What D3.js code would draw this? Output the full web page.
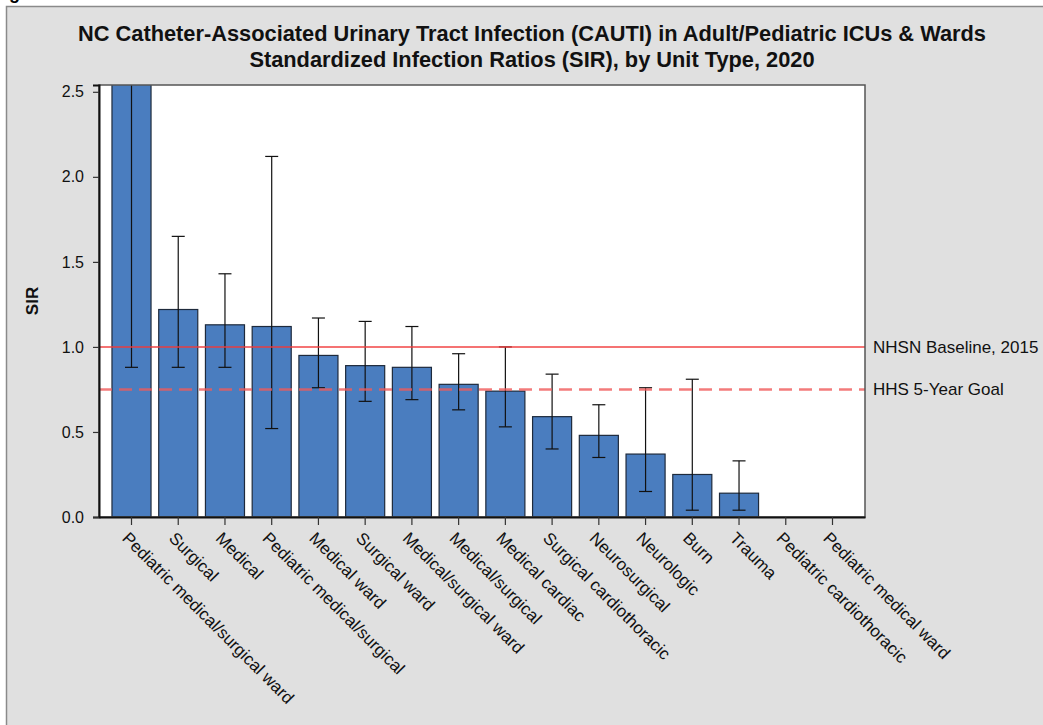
<!DOCTYPE html>
<html>
<head>
<meta charset="utf-8">
<script src="https://cdn.jsdelivr.net/npm/d3@7"></script>
<style>
  html, body { margin: 0; padding: 0; background: #ffffff; }
  svg { display: block; font-family: Arial, "Liberation Sans", sans-serif; }
</style>
</head>
<body>
<svg id="chart" width="1043" height="725"></svg>
<script>
// Unit types, in the order they are plotted
const categories = [
  "Pediatric medical/surgical ward", "Surgical", "Medical", "Pediatric medical/surgical",
  "Medical ward", "Surgical ward", "Medical/surgical ward", "Medical/surgical",
  "Medical cardiac", "Surgical cardiothoracic", "Neurosurgical", "Neurologic",
  "Burn", "Trauma", "Pediatric cardiothoracic", "Pediatric medical ward"
];
// Standardized infection ratio per unit type
const sirValues = [2.80, 1.22, 1.13, 1.12, 0.95, 0.89, 0.88, 0.78, 0.74, 0.59, 0.48, 0.37, 0.25, 0.14, 0, 0];
// 95% confidence interval bounds (null where no interval is shown)
const ciLower = [0.88, 0.88, 0.88, 0.52, 0.76, 0.68, 0.69, 0.63, 0.53, 0.40, 0.35, 0.15, 0.04, 0.04, null, null];
const ciUpper = [6.20, 1.65, 1.43, 2.12, 1.17, 1.15, 1.12, 0.96, 1.00, 0.84, 0.66, 0.76, 0.81, 0.33, null, null];
// Reference lines
const refLabels = ["NHSN Baseline, 2015", "HHS 5-Year Goal"];
const refValues = [1.0, 0.75];
// Y axis ticks
const yTicks = [0, 0.5, 1.0, 1.5, 2.0, 2.5];
const titleLines = [
  "NC Catheter-Associated Urinary Tract Infection (CAUTI) in Adult/Pediatric ICUs & Wards",
  "Standardized Infection Ratios (SIR), by Unit Type, 2020"
];

const svg = d3.select("#chart");
const W = 1043, H = 725;
const plot = { left: 99, right: 865, top: 85, bottom: 517 };
const FONT = "Arial, 'Liberation Sans', sans-serif";

// heading glyph clipped by the top edge
svg.append("text").attr("x", 9).attr("y", -1)
  .attr("font-size", 18).attr("font-weight", "bold").attr("fill", "#000").text("g");

// gray background panel
svg.append("rect")
  .attr("x", 6.5).attr("y", 6.5).attr("width", W).attr("height", H)
  .attr("fill", "#e0e0e0").attr("stroke", "#8a8a8a").attr("stroke-width", 1.5);

// title
svg.append("g").selectAll("text").data(titleLines).join("text")
  .attr("x", 532).attr("y", (d, i) => 41 + i * 26)
  .attr("text-anchor", "middle")
  .attr("font-size", 21.8).attr("font-weight", "bold").attr("fill", "#111")
  .text(d => d);

const x = d3.scaleBand()
  .domain(categories)
  .range([plot.left, plot.right])
  .paddingInner(0.143)
  .paddingOuter(0.267);

const y = d3.scaleLinear()
  .domain([0, 2.54])
  .range([plot.bottom, plot.top]);

// plot background
svg.append("rect")
  .attr("x", plot.left).attr("y", plot.top)
  .attr("width", plot.right - plot.left).attr("height", plot.bottom - plot.top)
  .attr("fill", "#ffffff");

svg.append("defs").append("clipPath").attr("id", "plotClip")
  .append("rect")
  .attr("x", plot.left).attr("y", plot.top)
  .attr("width", plot.right - plot.left).attr("height", plot.bottom - plot.top);

const rows = categories.map((c, i) => ({
  cat: c, sir: sirValues[i], lo: ciLower[i], hi: ciUpper[i]
}));

const inner = svg.append("g").attr("clip-path", "url(#plotClip)");

// bars
inner.append("g").selectAll("rect")
  .data(rows.filter(d => d.sir > 0))
  .join("rect")
  .attr("x", d => x(d.cat) + 0.5)
  .attr("y", d => y(d.sir))
  .attr("width", x.bandwidth() - 1)
  .attr("height", d => y(0) - y(d.sir))
  .attr("fill", "#4a7dbf")
  .attr("stroke", "#1e2a3c")
  .attr("stroke-width", 1.2);

// confidence interval whiskers
const capHalf = 6.5;
const eb = inner.append("g").attr("stroke", "#111").attr("stroke-width", 1.2)
  .selectAll("g").data(rows.filter(d => d.lo !== null)).join("g");
eb.append("line")
  .attr("x1", d => x(d.cat) + x.bandwidth() / 2)
  .attr("x2", d => x(d.cat) + x.bandwidth() / 2)
  .attr("y1", d => y(d.lo)).attr("y2", d => y(d.hi));
eb.append("line")
  .attr("x1", d => x(d.cat) + x.bandwidth() / 2 - capHalf)
  .attr("x2", d => x(d.cat) + x.bandwidth() / 2 + capHalf)
  .attr("y1", d => y(d.lo)).attr("y2", d => y(d.lo));
eb.append("line")
  .attr("x1", d => x(d.cat) + x.bandwidth() / 2 - capHalf)
  .attr("x2", d => x(d.cat) + x.bandwidth() / 2 + capHalf)
  .attr("y1", d => y(d.hi)).attr("y2", d => y(d.hi));

// reference lines
const refStyles = [
  { stroke: "#f03a3a", width: 1.5, dash: null, opacity: 0.95 },
  { stroke: "#f05a5a", width: 2.5, dash: "13,7", opacity: 0.8 }
];
inner.append("g").selectAll("line").data(refValues).join("line")
  .attr("x1", plot.left).attr("x2", plot.right)
  .attr("y1", d => y(d)).attr("y2", d => y(d))
  .attr("stroke", (d, i) => refStyles[i].stroke)
  .attr("stroke-width", (d, i) => refStyles[i].width)
  .attr("stroke-dasharray", (d, i) => refStyles[i].dash)
  .attr("stroke-opacity", (d, i) => refStyles[i].opacity);

svg.append("g").selectAll("text").data(refValues).join("text")
  .attr("x", plot.right + 8)
  .attr("y", d => y(d))
  .attr("dy", "0.35em")
  .attr("font-size", 17).attr("fill", "#111")
  .text((d, i) => refLabels[i]);

// frame
svg.append("rect")
  .attr("x", plot.left).attr("y", plot.top)
  .attr("width", plot.right - plot.left).attr("height", plot.bottom - plot.top)
  .attr("fill", "none").attr("stroke", "#555").attr("stroke-width", 1.5);

// y axis
const yAxis = svg.append("g")
  .attr("transform", `translate(${plot.left},0)`)
  .call(d3.axisLeft(y).tickValues(yTicks).tickFormat(d3.format(".1f")).tickSize(6).tickPadding(9));
yAxis.select(".domain").attr("stroke", "#111").attr("stroke-width", 2);
yAxis.selectAll(".tick line").attr("stroke", "#333").attr("stroke-width", 1.2);
yAxis.selectAll(".tick text").attr("font-size", 16).attr("fill", "#111")
  .attr("font-family", FONT);

// x axis
const xAxis = svg.append("g")
  .attr("transform", `translate(0,${plot.bottom})`)
  .call(d3.axisBottom(x).tickSize(8).tickSizeOuter(0));
xAxis.select(".domain").attr("stroke", "#111").attr("stroke-width", 2);
xAxis.selectAll(".tick line").attr("stroke", "#333").attr("stroke-width", 1.2);
xAxis.selectAll(".tick text")
  .attr("font-size", 17).attr("fill", "#111")
  .attr("font-family", FONT)
  .attr("text-anchor", "start")
  .attr("x", 0).attr("y", 0).attr("dy", "0.35em")
  .attr("transform", "translate(-6,18) rotate(45)");

// y axis title
svg.append("text")
  .attr("transform", "translate(38,301) rotate(-90)")
  .attr("text-anchor", "middle")
  .attr("font-size", 17).attr("font-weight", "bold").attr("fill", "#111")
  .text("SIR");
</script>
</body>
</html>
